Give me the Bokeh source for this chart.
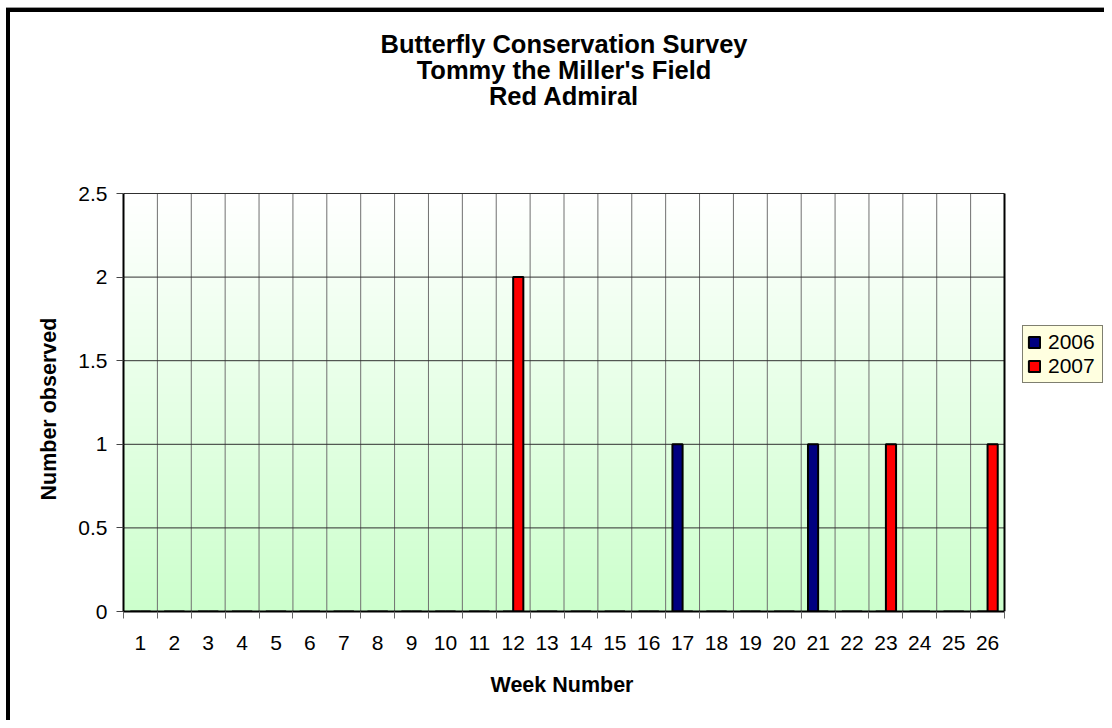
import numpy as np
from bokeh.plotting import figure
from bokeh.models import ColumnDataSource, FixedTicker, Legend, LegendItem, Range1d, Label, Title
from bokeh.transform import dodge
from bokeh.embed import file_html
from bokeh.resources import INLINE

# ---- data ----
weeks = list(range(1, 27))
counts_2006 = [0, 0, 0, 0, 0, 0, 0, 0, 0, 0, 0, 0, 0, 0, 0, 0, 1, 0, 0, 0, 1, 0, 0, 0, 0, 0]
counts_2007 = [0, 0, 0, 0, 0, 0, 0, 0, 0, 0, 0, 2, 0, 0, 0, 0, 0, 0, 0, 0, 0, 0, 1, 0, 0, 1]
series_names = ["2006", "2007"]
series_colors = ["#000080", "#FF0000"]
y_ticks = [0, 0.5, 1, 1.5, 2, 2.5]
y_tick_labels = ["0", "0.5", "1", "1.5", "2", "2.5"]
title_lines = ["Butterfly Conservation Survey", "Tommy the Miller's Field", "Red Admiral"]
x_title = "Week Number"
y_title = "Number observed"

FONT = "Liberation Sans"

# ---- layout (pixels) ----
W, H = 1104, 720
PLOT_L, PLOT_R, PLOT_T, PLOT_B = 123, 1004, 193, 611
TITLE_CY = [43.5, 69, 95]          # centre lines of the three title rows
LEGEND_L, LEGEND_B = 1022, 383

x_start, x_end = weeks[0] - 0.5, weeks[-1] + 0.5
y_start, y_end = y_ticks[0], y_ticks[-1]
px_x = (PLOT_R - PLOT_L) / (x_end - x_start)
px_y = (PLOT_B - PLOT_T) / (y_end - y_start)
# the frame is widened to the right/top edges so legend and titles can live in it
x_frame_end = x_end + (W - PLOT_R) / px_x
y_frame_end = y_end + PLOT_T / px_y

p = figure(
    frame_width=W - PLOT_L, frame_height=PLOT_B,
    min_border_left=PLOT_L, min_border_right=0,
    min_border_top=0, min_border_bottom=H - PLOT_B,
    x_range=Range1d(x_start, x_frame_end), y_range=Range1d(y_start, y_frame_end),
    output_backend="svg", toolbar_location=None, title=None,
)
p.border_fill_color = None
p.background_fill_color = None
p.outline_line_color = None
# outer chart-area border (top/left edges; right/bottom lie beyond the picture)
p.styles = {
    "background-color": "white",
    "background-image": "linear-gradient(#000,#000), linear-gradient(#000,#000), linear-gradient(#999,#999)",
    "background-size": "4px 100%, 100% 4px, 100% 1px",
    "background-position": "6px 8px, 6px 8px, 6px 7px",
    "background-repeat": "no-repeat",
}
p.grid.visible = False

# gradient plot-area background (white at top -> pale green at bottom)
n = 256
tt = np.linspace(0.0, 1.0, n)
rb = np.round(204 + 51 * tt).astype(np.uint8)
img = np.zeros((n, 1), dtype=np.uint32)
view = img.view(dtype=np.uint8).reshape((n, 1, 4))
view[:, 0, 0] = rb
view[:, 0, 1] = 255
view[:, 0, 2] = rb
view[:, 0, 3] = 255
p.image_rgba(image=[img], x=x_start, y=y_start, dw=x_end - x_start, dh=y_end - y_start, level="image")

# grid lines limited to the plot area
boundaries = [w - 0.5 for w in weeks] + [weeks[-1] + 0.5]
p.segment(x0=boundaries[:-1], y0=y_start, x1=boundaries[:-1], y1=y_end,
          line_color="#707070", line_width=1, level="underlay")
p.segment(x0=x_start, y0=y_ticks, x1=x_end, y1=y_ticks,
          line_color="#303030", line_width=1, level="underlay")
p.segment(x0=[x_end], y0=y_start, x1=[x_end], y1=y_end,
          line_color="black", line_width=2, level="underlay")

src = ColumnDataSource(dict(week=weeks, y2006=counts_2006, y2007=counts_2007))
r06 = p.vbar(x=dodge("week", -0.15), top="y2006", width=0.3, source=src,
             fill_color=series_colors[0], line_color="black", line_width=2)
r07 = p.vbar(x=dodge("week", 0.15), top="y2007", width=0.3, source=src,
             fill_color=series_colors[1], line_color="black", line_width=2)

# titles, centred over the plot area
x_mid = (x_start + x_end) / 2
for line, cy in zip(title_lines, TITLE_CY):
    p.add_layout(Label(x=x_mid, y=y_start + (PLOT_B - cy) / px_y, text=line,
                       text_align="center", text_baseline="middle",
                       text_font=FONT, text_font_size="25.5px", text_font_style="bold",
                       text_color="black"))

legend = Legend(items=[LegendItem(label=series_names[0], renderers=[r06]),
                       LegendItem(label=series_names[1], renderers=[r07])],
                location=(LEGEND_L - PLOT_L, PLOT_B - LEGEND_B))
legend.background_fill_color = "#FFFFE0"
legend.background_fill_alpha = 1.0
legend.border_line_color = "black"
legend.border_line_width = 1
legend.label_text_font = FONT
legend.label_text_font_size = "21px"
legend.label_text_color = "black"
legend.glyph_width = 14
legend.glyph_height = 14
legend.label_standoff = 7
legend.label_width = 50
legend.padding = 4
legend.spacing = 0
legend.margin = 0
p.add_layout(legend)

# x axis: labels at week centres, ticks at category boundaries
p.xaxis.bounds = (x_start, x_end)
p.xaxis.ticker = FixedTicker(ticks=weeks, minor_ticks=boundaries)
p.xaxis.major_tick_line_color = None
p.xaxis.major_tick_out = 7
p.xaxis.major_tick_in = 0
p.xaxis.minor_tick_in = 0
p.xaxis.minor_tick_out = 7
p.xaxis.minor_tick_line_color = "#666666"
p.xaxis.axis_line_color = "black"
p.xaxis.axis_line_width = 2
p.xaxis.major_label_text_font = FONT
p.xaxis.major_label_text_font_size = "21px"
p.xaxis.major_label_text_color = "black"
p.xaxis.major_label_standoff = 17

p.yaxis.bounds = (y_start, y_end)
p.yaxis.ticker = FixedTicker(ticks=y_ticks)
p.yaxis.major_label_overrides = {v: s for v, s in zip(y_ticks, y_tick_labels)}
p.yaxis.major_tick_out = 7
p.yaxis.major_tick_in = 0
p.yaxis.minor_tick_out = 0
p.yaxis.minor_tick_in = 0
p.yaxis.major_tick_line_color = "#444444"
p.yaxis.axis_line_color = "black"
p.yaxis.axis_line_width = 2
p.yaxis.major_label_text_font = FONT
p.yaxis.major_label_text_font_size = "21px"
p.yaxis.major_label_text_color = "black"
p.yaxis.major_label_standoff = 9

# axis titles, placed over the plot area (not the widened frame)
p.add_layout(Title(text=x_title, align="left", offset=367, vertical_align="top", standoff=41,
                   text_font=FONT, text_font_size="21.5px", text_font_style="bold",
                   text_color="black"), "below")
p.add_layout(Title(text=y_title, align="left", offset=111, vertical_align="bottom", standoff=30,
                   text_font=FONT, text_font_size="21.5px", text_font_style="bold",
                   text_color="black"), "left")

open("out.html", "w").write(file_html(p, INLINE))
